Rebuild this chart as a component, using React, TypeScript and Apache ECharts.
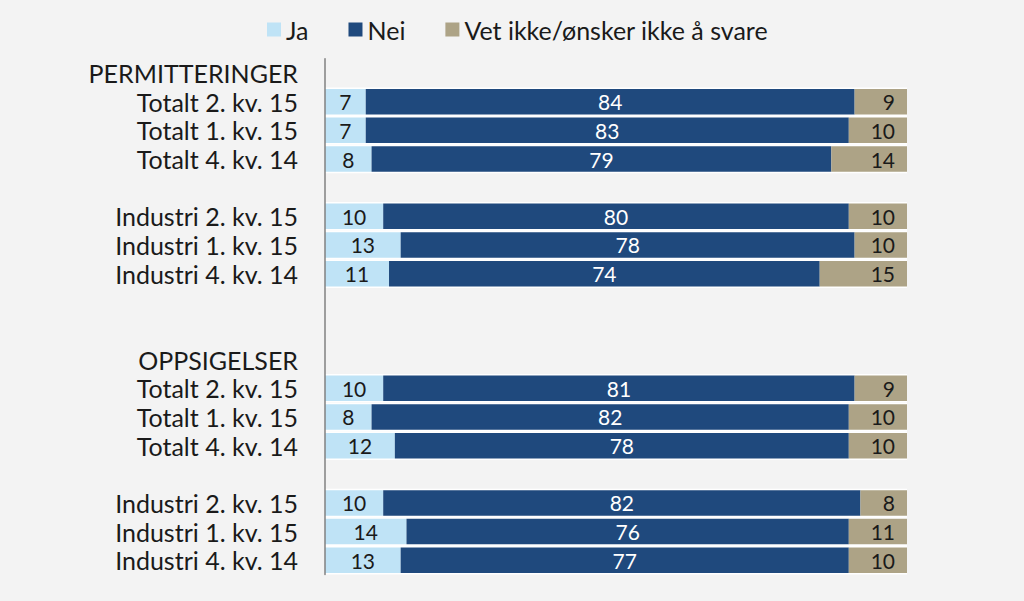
import React, { useEffect, useRef } from 'react';
import * as echarts from 'echarts';

const categories = [
  'PERMITTERINGER',
  'Totalt 2. kv. 15',
  'Totalt 1. kv. 15',
  'Totalt 4. kv. 14',
  '',
  'Industri 2. kv. 15',
  'Industri 1. kv. 15',
  'Industri 4. kv. 14',
  '',
  '',
  'OPPSIGELSER',
  'Totalt 2. kv. 15',
  'Totalt 1. kv. 15',
  'Totalt 4. kv. 14',
  '',
  'Industri 2. kv. 15',
  'Industri 1. kv. 15',
  'Industri 4. kv. 14',
];
const ja = [null, 7, 7, 8, null, 10, 13, 11, null, null, null, 10, 8, 12, null, 10, 14, 13];
const nei = [null, 84, 83, 79, null, 80, 78, 74, null, null, null, 81, 82, 78, null, 82, 76, 77];
const vet = [null, 9, 10, 14, null, 10, 10, 15, null, null, null, 9, 10, 10, null, 8, 11, 10];
const seriesNames = ['Ja', 'Nei', 'Vet ikke/ønsker ikke å svare'];

const FONT = 'Lato';

export default function App() {
  const ref = useRef<HTMLDivElement>(null);
  useEffect(() => {
    if (!ref.current) return;
    const chart = echarts.init(ref.current, undefined, { renderer: 'svg' });
    const gridPos = { left: 325, right: 117, top: 58.7, bottom: 26.4 };
    const bgData = ja.map((v) => (v == null ? null : 100));
    const labelBase = { show: true, fontFamily: FONT, fontSize: 21, color: '#1a1a1a' };
    chart.setOption({
      animation: false,
      backgroundColor: '#f3f3f3',
      textStyle: { fontFamily: FONT },
      legend: {
        data: seriesNames,
        left: 262,
        top: 12,
        itemWidth: 14,
        itemHeight: 14,
        itemGap: 40,
        icon: 'rect',
        textStyle: { fontFamily: FONT, fontSize: 25, color: '#1a1a1a' },
      },
      grid: [
        { ...gridPos },
        { ...gridPos },
      ],
      xAxis: [
        { gridIndex: 0, type: 'value', min: 0, max: 100, show: false },
        { gridIndex: 1, type: 'value', min: 0, max: 100, show: false },
      ],
      yAxis: [
        {
          gridIndex: 0,
          type: 'category',
          data: categories,
          inverse: true,
          axisLine: { show: true, lineStyle: { color: '#808080', width: 1.5 } },
          axisTick: { show: false },
          axisLabel: { interval: 0, margin: 27, fontFamily: FONT, fontSize: 25, color: '#1a1a1a' },
          splitLine: { show: false },
          z: 5,
        },
        {
          gridIndex: 1,
          type: 'category',
          data: categories,
          inverse: true,
          show: false,
        },
      ],
      series: [
        {
          name: 'bg',
          type: 'bar',
          xAxisIndex: 1,
          yAxisIndex: 1,
          data: bgData,
          barWidth: 28.6,
          itemStyle: { color: '#ffffff' },
          silent: true,
          z: 0,
        },
        {
          name: seriesNames[0],
          type: 'bar',
          stack: 'a',
          data: ja,
          barWidth: 25.5,
          itemStyle: { color: '#bfe3f6' },
          label: { ...labelBase, position: 'inside' },
          z: 2,
        },
        {
          name: seriesNames[1],
          type: 'bar',
          stack: 'a',
          data: nei,
          barWidth: 25.5,
          itemStyle: { color: '#1f497d' },
          label: { ...labelBase, position: 'inside', color: '#ffffff' },
          z: 2,
        },
        {
          name: seriesNames[2],
          type: 'bar',
          stack: 'a',
          data: vet,
          barWidth: 25.5,
          itemStyle: { color: '#ada386' },
          label: { ...labelBase, position: 'insideRight', distance: 12 },
          z: 2,
        },
      ],
    });
    return () => chart.dispose();
  }, []);
  return (
    <div
      ref={ref}
      style={{ position: 'fixed', left: 0, top: 0, width: 1024, height: 601 }}
    />
  );
}
